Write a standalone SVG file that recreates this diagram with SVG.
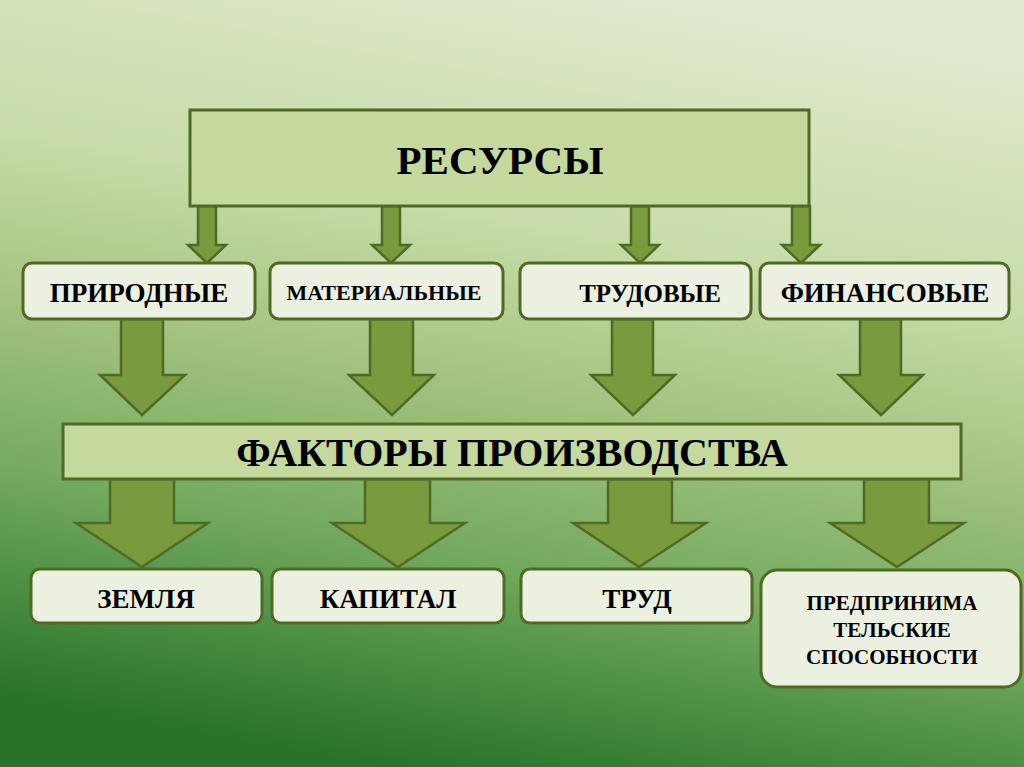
<svg xmlns="http://www.w3.org/2000/svg" width="1024" height="767" viewBox="0 0 1024 767">
<defs>
<linearGradient id="bg" x1="0.62" y1="0" x2="0.38" y2="1">
<stop offset="0" stop-color="#dfe9cd"/>
<stop offset="0.3" stop-color="#c8dba8"/>
<stop offset="0.5" stop-color="#a5c482"/>
<stop offset="0.72" stop-color="#74aa5f"/>
<stop offset="0.88" stop-color="#468a40"/>
<stop offset="1" stop-color="#28722a"/>
</linearGradient>
<style>
.big{fill:#c5d89d;stroke:#4f6a25;stroke-width:3}
.box{fill:#ebf0e0;stroke:#4f6a25;stroke-width:3}
.arr{fill:#7a9a3e;stroke:#4f6a25;stroke-width:2.5;stroke-linejoin:miter}
</style>
</defs>
<rect width="1024" height="767" fill="url(#bg)"/>
<g id="connectors">
<polygon class="arr" points="198,206 216,206 216,245 226,245 207,263 188,245 198,245"/>
<polygon class="arr" points="382,206 400,206 400,245 410,245 391,263 372,245 382,245"/>
<polygon class="arr" points="631,206 649,206 649,245 659,245 640,263 621,245 631,245"/>
<polygon class="arr" points="792,206 810,206 810,245 820,245 801,263 782,245 792,245"/>
<polygon class="arr" points="121,319 163,319 163,375 185,375 142,415 100,375 121,375"/>
<polygon class="arr" points="370,319 413,319 413,375 434,375 392,415 349,375 370,375"/>
<polygon class="arr" points="612,319 653,319 653,375 675,375 633,415 591,375 612,375"/>
<polygon class="arr" points="860,319 901,319 901,375 923,375 881,415 839,375 860,375"/>
<polygon class="arr" points="110,479 174,479 174,523 208,523 142,567 76,523 110,523"/>
<polygon class="arr" points="365,479 430,479 430,523 465,523 398,567 332,523 365,523"/>
<polygon class="arr" points="608,479 672,479 672,523 706,523 639,567 573,523 608,523"/>
<polygon class="arr" points="864,479 929,479 929,523 964,523 897,567 830,523 864,523"/>
</g>
<g font-family="Liberation Serif, DejaVu Serif, serif" font-weight="bold" fill="#000" text-anchor="middle">
<g id="resursy">
<rect class="big" x="190" y="110" width="619" height="96"/>
<text x="500" y="174" font-size="41">РЕСУРСЫ</text>
</g>
<g id="prirodnye">
<rect class="box" x="23" y="263" width="232" height="56" rx="9"/>
<text x="139" y="302" font-size="27">ПРИРОДНЫЕ</text>
</g>
<g id="materialnye">
<rect class="box" x="270" y="263" width="233" height="56" rx="9"/>
<text x="384" y="300" font-size="22">МАТЕРИАЛЬНЫЕ</text>
</g>
<g id="trudovye">
<rect class="box" x="520" y="263" width="231" height="56" rx="9"/>
<text x="650" y="302" font-size="25">ТРУДОВЫЕ</text>
</g>
<g id="finansovye">
<rect class="box" x="760" y="263" width="249" height="56" rx="9"/>
<text x="885" y="302" font-size="27">ФИНАНСОВЫЕ</text>
</g>
<g id="faktory">
<rect class="big" x="63" y="424" width="898" height="55"/>
<text x="512" y="466" font-size="40">ФАКТОРЫ ПРОИЗВОДСТВА</text>
</g>
<g id="zemlya">
<rect class="box" x="31" y="569" width="231" height="54" rx="9"/>
<text x="146" y="608" font-size="27">ЗЕМЛЯ</text>
</g>
<g id="kapital">
<rect class="box" x="272" y="569" width="232" height="54" rx="9"/>
<text x="388" y="608" font-size="27">КАПИТАЛ</text>
</g>
<g id="trud">
<rect class="box" x="521" y="569" width="231" height="54" rx="9"/>
<text x="637" y="608" font-size="27">ТРУД</text>
</g>
<g id="predprinimatelskie">
<rect class="box" x="761" y="570" width="260" height="117" rx="16"/>
<text x="892" y="610" font-size="21">ПРЕДПРИНИМА</text>
<text x="892" y="637" font-size="21">ТЕЛЬСКИЕ</text>
<text x="892" y="664" font-size="21">СПОСОБНОСТИ</text>
</g>
</g>
</svg>
